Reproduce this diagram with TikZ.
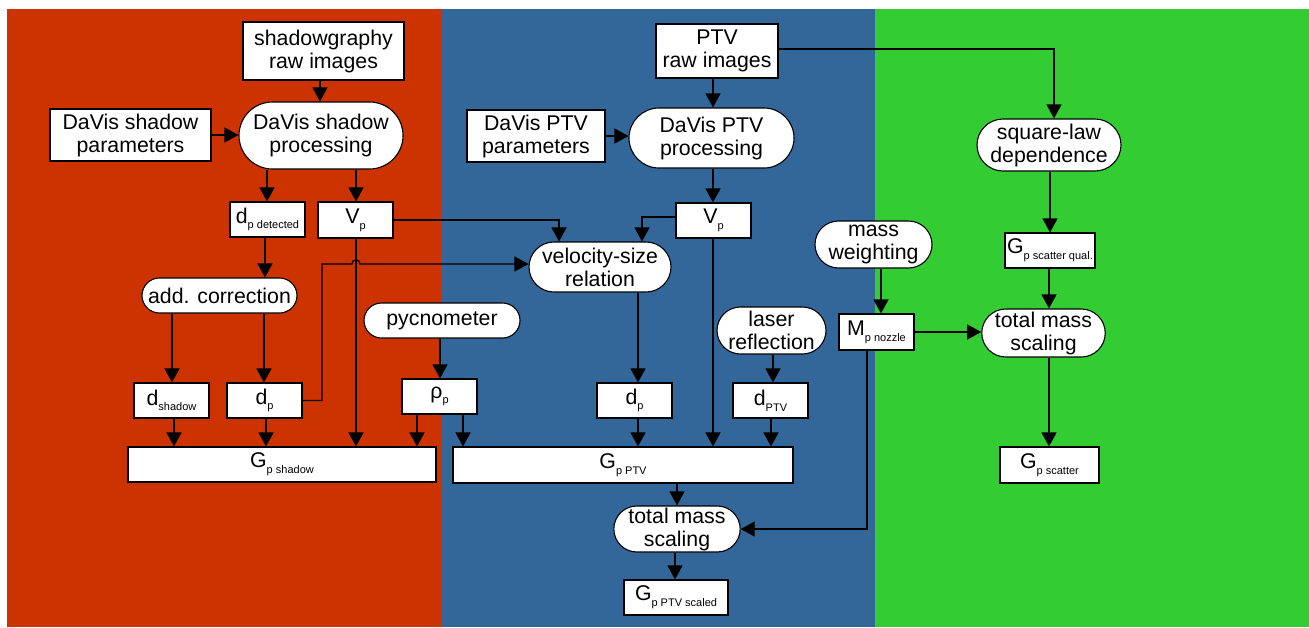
\documentclass[tikz,border=0pt]{standalone}
\usepackage{fontspec}
\setmainfont{Liberation Sans}
\usetikzlibrary{arrows.meta,shapes.misc}
\definecolor{bgred}{RGB}{204,51,0}
\definecolor{bgblue}{RGB}{51,102,153}
\definecolor{bggreen}{RGB}{51,204,51}
\newcommand\mysub[1]{\raisebox{-0.5ex}{\fontsize{11}{11}\selectfont #1}}
\begin{document}
\begin{tikzpicture}[x=1pt,y=-1pt,
  box/.style={draw, fill=white, line width=1.1pt, inner sep=0pt, align=center, font=\fontsize{21.3}{23}\selectfont},
  rbox/.style={box, rounded rectangle},
  wh/.style 2 args={minimum width=#1pt, minimum height=#2pt},
  arr/.style={line width=1.3pt, -{Triangle[length=14pt,width=15pt]}},
  ln/.style={line width=1.3pt}]
\useasboundingbox (0,0) rectangle (1309,627);
\fill[white] (0,0) rectangle (1309,627);
\fill[bgred] (7,9) rectangle (441,627);
\fill[bgblue] (441,9) rectangle (875,627);
\fill[bggreen] (875,9) rectangle (1309,627);

% shadow column
\node[box, wh={161}{58}] (sg) at (323.5,51) {shadowgraphy\\raw images};
\node[box, wh={161}{52}] (dsp) at (130.5,135) {DaVis shadow\\parameters};
\node[rbox, wh={164}{67}] (dsproc) at (321,135.5) {DaVis shadow\\processing};
\node[box, wh={75}{35}] (ddet) at (267.5,219.5) {d\mysub{p detected}};
\node[box, wh={75}{36}] (vps) at (355.5,220) {V\mysub{p}};
\node[rbox, wh={155}{35}] (addc) at (219.5,295.5) {add. correction};
\node[box, wh={75}{35}] (dsh) at (171.5,400.5) {d\mysub{shadow}};
\node[box, wh={75}{35}] (dps) at (264.5,400.5) {d\mysub{p}};
\node[rbox, wh={156}{35}] (pyc) at (442,320.5) {pycnometer};
\node[box, wh={75}{35}] (rho) at (439.5,396.5) {ρ\mysub{p}};
\node[box, wh={308}{35}] (gsh) at (282,464.5) {G\mysub{p shadow}};

% PTV column
\node[box, wh={122}{54}] (ptvraw) at (717,51) {PTV\\raw images};
\node[box, wh={138}{52}] (ptvpar) at (536,136) {DaVis PTV\\parameters};
\node[rbox, wh={165}{60}] (ptvproc) at (711.5,138) {DaVis PTV\\processing};
\node[box, wh={75}{35}] (vpp) at (713.5,220.5) {V\mysub{p}};
\node[rbox, wh={142}{50}] (vsr) at (600,267) {velocity-size\\relation};
\node[box, wh={75}{35}] (dpp) at (634.5,400.5) {d\mysub{p}};
\node[rbox, wh={109}{47}] (laser) at (771.5,330.5) {laser\\reflection};
\node[box, wh={75}{35}] (dptv) at (770.5,400.5) {d\mysub{PTV}};
\node[box, wh={340}{36}] (gptv) at (623,465) {G\mysub{p PTV}};
\node[rbox, wh={120}{46}] (tmp) at (677,529) {total mass\\scaling};
\node[box, wh={104}{35}] (gscaled) at (676,597.5) {G\mysub{p PTV scaled}};

% scatter column
\node[rbox, wh={117}{47}] (mw) at (873.5,244.5) {mass\\weighting};
\node[box, wh={75}{36}] (mnz) at (876.5,332) {M\mysub{p nozzle}};
\node[rbox, wh={121}{48}] (tmg) at (1043.5,333) {total mass\\scaling};
\node[box, wh={90}{35}] (gsq) at (1050,250.5) {G\mysub{p scatter qual.}};
\node[rbox, wh={144}{52}] (sqlaw) at (1049,145) {square-law\\dependence};
\node[box, wh={99}{36}] (gsc) at (1049.5,465) {G\mysub{p scatter}};

% connectors: shadow
\draw[arr] (sg.south -| 320,0) -- (dsproc.north -| 320,0);
\draw[arr] (dsp.east) -- (dsproc.west |- dsp.east);
\draw[arr] (dsproc.south -| 267,0) -- (ddet.north -| 267,0);
\draw[arr] (dsproc.south -| 356,0) -- (vps.north -| 356,0);
\draw[arr] (ddet.south -| 265,0) -- (addc.north -| 265,0);
\draw[arr] (addc.south -| 172,0) -- (dsh.north -| 172,0);
\draw[arr] (addc.south -| 264,0) -- (dps.north -| 264,0);
\draw[arr] (dsh.south -| 174,0) -- (gsh.north -| 174,0);
\draw[arr] (dps.south -| 266,0) -- (gsh.north -| 266,0);
\draw[arr] (vps.south -| 356,0) -- (gsh.north -| 356,0);
\draw[arr] (rho.south -| 417,0) -- (gsh.north -| 417,0);
\draw[arr] (rho.south -| 463,0) -- (gptv.north -| 463,0);
\draw[arr] (pyc.south -| 440,0) -- (rho.north -| 440,0);
\draw[arr] (dps.east) -- (322,400.5) -- (322,264) -- (352,264)
   .. controls (352,258.5) and (360,258.5) .. (360,264) -- (vsr.west |- 0,264);
\draw[arr] (vps.east) -- (559,220) -- (vsr.north -| 559,0);

% connectors: PTV
\draw[arr] (ptvraw.south -| 713,0) -- (ptvproc.north -| 713,0);
\draw[arr] (ptvpar.east) -- (ptvproc.west |- ptvpar.east);
\draw[arr] (ptvraw.east |- 0,49) -- (1054,49) -- (sqlaw.north -| 1054,0);
\draw[arr] (ptvproc.south -| 713,0) -- (vpp.north -| 713,0);
\draw[arr] (vpp.west |- 0,217) -- (642,217) -- (vsr.north -| 642,0);
\draw[arr] (vsr.south -| 638,0) -- (dpp.north -| 638,0);
\draw[arr] (vpp.south -| 713,0) -- (gptv.north -| 713,0);
\draw[arr] (dpp.south -| 638,0) -- (gptv.north -| 638,0);
\draw[arr] (laser.south -| 773,0) -- (dptv.north -| 773,0);
\draw[arr] (dptv.south -| 771,0) -- (gptv.north -| 771,0);
\draw[arr] (gptv.south -| 677,0) -- (tmp.north -| 677,0);
\draw[arr] (tmp.south -| 675,0) -- (gscaled.north -| 675,0);

% connectors: scatter
\draw[arr] (mw.south -| 881,0) -- (mnz.north -| 881,0);
\draw[arr] (mnz.east) -- (tmg.west |- mnz.east);
\draw[arr] (mnz.south -| 867,0) -- (867,529) -- (tmp.east);
\draw[arr] (sqlaw.south -| 1050,0) -- (gsq.north -| 1050,0);
\draw[arr] (gsq.south -| 1049,0) -- (tmg.north -| 1049,0);
\draw[arr] (tmg.south -| 1049,0) -- (gsc.north -| 1049,0);
\end{tikzpicture}
\end{document}
